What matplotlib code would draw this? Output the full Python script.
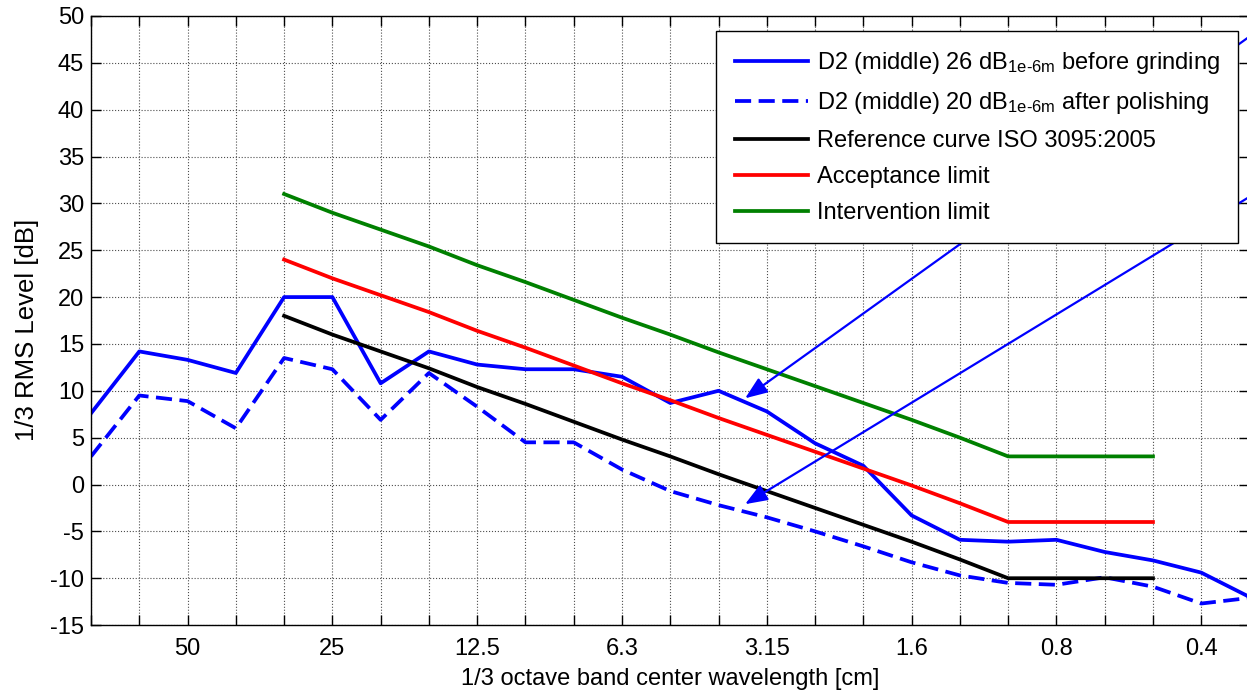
# Rail roughness 1/3 octave spectra vs ISO 3095 limits
import matplotlib.pyplot as plt

plt.rcParams['font.family'] = ['Liberation Sans', 'DejaVu Sans']
plt.rcParams['mathtext.fontset'] = 'custom'
plt.rcParams['mathtext.rm'] = 'Liberation Sans'
plt.rcParams['mathtext.it'] = 'Liberation Sans:italic'
plt.rcParams['axes.unicode_minus'] = False

# 1/3 octave band centre wavelengths [cm], long to short
bands = ["80", "63", "50", "40", "31.5", "25", "20", "16", "12.5", "10", "8",
         "6.3", "5", "4", "3.15", "2.5", "2", "1.6", "1.25", "1", "0.8",
         "0.63", "0.5", "0.4", "0.315"]
shown = ["50", "25", "12.5", "6.3", "3.15", "1.6", "0.8", "0.4"]

before_grinding = [7.6, 14.2, 13.3, 11.9, 20.0, 20.0, 10.8, 14.2, 12.8, 12.3,
                   12.3, 11.5, 8.7, 10.0, 7.8, 4.4, 2.0, -3.3, -5.9, -6.1,
                   -5.9, -7.2, -8.1, -9.4, -12.0]
after_polishing = [3.0, 9.5, 8.9, 6.0, 13.5, 12.3, 6.9, 11.9, 8.3, 4.5,
                   4.5, 1.6, -0.7, -2.2, -3.5, -5.0, -6.6, -8.3, -9.7, -10.5,
                   -10.7, -9.9, -10.9, -12.7, -12.1]

# limit curves defined from 31.5 cm down to 0.5 cm
limit_bands = bands[4:23]
iso_ref = [18.0, 16.0, 14.2, 12.4, 10.4, 8.6, 6.7, 4.8, 3.0, 1.1, -0.7,
           -2.5, -4.3, -6.1, -8.0, -10, -10, -10, -10]
acceptance = [24.0, 22.0, 20.2, 18.4, 16.4, 14.6, 12.7, 10.8, 9.0, 7.1, 5.3,
              3.5, 1.7, -0.1, -2.0, -4, -4, -4, -4]
intervention = [31.0, 29.0, 27.2, 25.4, 23.4, 21.6, 19.7, 17.8, 16.0, 14.1,
                12.3, 10.5, 8.7, 6.9, 5.0, 3, 3, 3, 3]

x_all = list(range(len(bands)))
x_lim = [bands.index(b) for b in limit_bands]

fig = plt.figure(figsize=(12.47, 6.93), dpi=100)
ax = fig.add_axes([0.073, 0.098, 0.929, 0.879])

lw = 2.7
ax.plot(x_all, before_grinding, color='#0000ff', lw=lw,
        label=r'D2 (middle) 26 dB$_{\mathrm{1e\text{-}6m}}$ before grinding')
ax.plot(x_all, after_polishing, color='#0000ff', lw=lw, dashes=(4.3, 2.0),
        label=r'D2 (middle) 20 dB$_{\mathrm{1e\text{-}6m}}$ after polishing')
ax.plot(x_lim, iso_ref, color='black', lw=lw, label='Reference curve ISO 3095:2005')
ax.plot(x_lim, acceptance, color='#ff0000', lw=lw, label='Acceptance limit')
ax.plot(x_lim, intervention, color='#008000', lw=lw, label='Intervention limit')

# arrows pointing to the two measured curves
arrow = dict(arrowstyle='-|>,head_length=0.9,head_width=0.35', color='#0000ff',
             lw=1.6, shrinkA=0, shrinkB=0, mutation_scale=15)
ax.annotate('', xy=(13.55, 9.2), xytext=(24, 47.8), arrowprops=arrow)
ax.annotate('', xy=(13.55, -2.1), xytext=(24, 30.7), arrowprops=arrow)

ax.set_xlim(0, 24)
ax.set_ylim(-15, 50)
ax.set_yticks(range(-15, 51, 5))
ax.set_xticks(x_all)
ax.set_xticklabels([b if b in shown else '' for b in bands])
ax.tick_params(direction='in', top=True, right=True, length=7, width=1,
               labelsize=17)
ax.tick_params(axis='x', pad=9.5)
ax.tick_params(axis='y', pad=5)
ax.grid(True, color='0.3', linestyle=':', linewidth=0.8)
for s in ax.spines.values():
    s.set_linewidth(1.0)

ax.set_xlabel('1/3 octave band center wavelength [cm]', fontsize=17, va='top')
ax.xaxis.set_label_coords(0.5, -0.0706)
ax.set_ylabel('1/3 RMS Level [dB]', fontsize=18.5)
ax.yaxis.set_label_coords(-0.045, 0.484)

leg = ax.legend(loc='upper right', bbox_to_anchor=(0.9905, 0.9754),
                fontsize=17, frameon=True, fancybox=False, framealpha=1,
                edgecolor='black', handlelength=3.1, handletextpad=0.35,
                borderpad=0.8, labelspacing=0.6, borderaxespad=0)
leg.get_frame().set_linewidth(1.0)

fig.savefig('out.png', dpi=100)
